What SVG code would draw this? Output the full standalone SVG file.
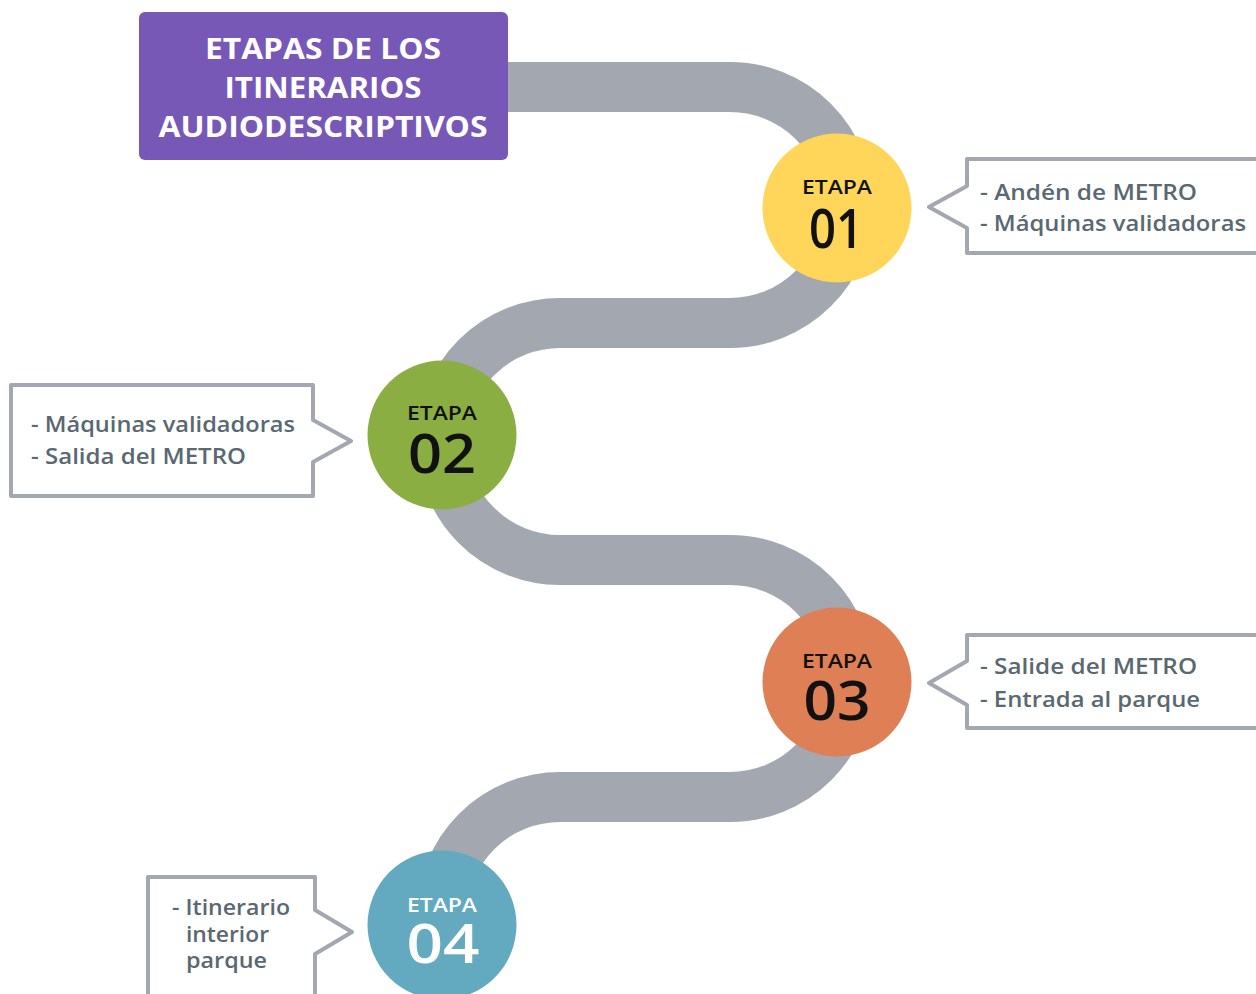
<svg xmlns="http://www.w3.org/2000/svg" width="1256" height="994" viewBox="0 0 1256 994">
<style>
.road{fill:none;stroke:#A3A7AF;stroke-width:50}
.callout{fill:#FFFFFF;stroke:#A3A7AF;stroke-width:4;stroke-linejoin:round}
.ct{font-family:"Open Sans","Liberation Sans",sans-serif;font-weight:600;font-size:22px;fill:#5A6872}
.title{font-family:"Open Sans","Liberation Sans",sans-serif;font-weight:700;font-size:29px;fill:#FFFFFF;text-anchor:middle}
.etapa{font-family:"Open Sans","Liberation Sans",sans-serif;font-weight:600;font-size:19px;text-anchor:middle}
.num{font-family:"Open Sans","Liberation Sans",sans-serif;font-weight:600;font-size:55px;text-anchor:middle}
</style>
<rect width="1256" height="994" fill="#FFFFFF"/>
<g id="connectors">
<path class="road" d="M 480 87 H 730 A 118 118 0 0 1 730 323 H 560 A 118.5 118.5 0 0 0 560 560 H 730 A 118.5 118.5 0 0 1 730 797 H 560 A 118 118 0 0 0 442 915 V 930"/>
</g>
<g id="title">
<rect x="139" y="12" width="369" height="148" rx="6" fill="#7758B7"/>
<text class="title" x="323" y="59" textLength="236" lengthAdjust="spacingAndGlyphs">ETAPAS DE LOS</text>
<text class="title" x="323" y="98" textLength="197" lengthAdjust="spacingAndGlyphs">ITINERARIOS</text>
<text class="title" x="323" y="137" textLength="329" lengthAdjust="spacingAndGlyphs">AUDIODESCRIPTIVOS</text>
</g>
<g id="etapa01">
<circle cx="837" cy="208" r="74.5" fill="#FFD55A"/>
<text class="etapa" x="837" y="194" fill="#111111" textLength="70" lengthAdjust="spacingAndGlyphs">ETAPA</text>
<text class="num" x="836" y="248" fill="#111111" textLength="54" lengthAdjust="spacingAndGlyphs">01</text>
</g>
<g id="callout01">
<path class="callout" d="M 967 159 H 1262 V 253 H 967 V 228 L 929 207 L 967 186 Z"/>
<text class="ct" x="980" y="200" textLength="217" lengthAdjust="spacingAndGlyphs">- Andén de METRO</text>
<text class="ct" x="980" y="231" textLength="266" lengthAdjust="spacingAndGlyphs">- Máquinas validadoras</text>
</g>
<g id="etapa02">
<circle cx="442" cy="435" r="74.5" fill="#8BAE43"/>
<text class="etapa" x="442" y="420" fill="#111111" textLength="70" lengthAdjust="spacingAndGlyphs">ETAPA</text>
<text class="num" x="442" y="473" fill="#111111" textLength="68" lengthAdjust="spacingAndGlyphs">02</text>
</g>
<g id="callout02">
<path class="callout" d="M 11 385 H 313 V 420 L 351 441 L 313 462 V 496 H 11 Z"/>
<text class="ct" x="31" y="432" textLength="264" lengthAdjust="spacingAndGlyphs">- Máquinas validadoras</text>
<text class="ct" x="31" y="464" textLength="215" lengthAdjust="spacingAndGlyphs">- Salida del METRO</text>
</g>
<g id="etapa03">
<circle cx="837" cy="682" r="74.5" fill="#DE7F55"/>
<text class="etapa" x="837" y="668" fill="#111111" textLength="70" lengthAdjust="spacingAndGlyphs">ETAPA</text>
<text class="num" x="837" y="720" fill="#111111" textLength="67" lengthAdjust="spacingAndGlyphs">03</text>
</g>
<g id="callout03">
<path class="callout" d="M 967 635 H 1262 V 728 H 967 V 705 L 929 683 L 967 661 Z"/>
<text class="ct" x="980" y="674" textLength="217" lengthAdjust="spacingAndGlyphs">- Salide del METRO</text>
<text class="ct" x="980" y="707" textLength="220" lengthAdjust="spacingAndGlyphs">- Entrada al parque</text>
</g>
<g id="etapa04">
<circle cx="442" cy="925" r="74.5" fill="#63AAC1"/>
<text class="etapa" x="442" y="912" fill="#FFFFFF" textLength="70" lengthAdjust="spacingAndGlyphs">ETAPA</text>
<text class="num" x="443" y="963" fill="#FFFFFF" textLength="73" lengthAdjust="spacingAndGlyphs">04</text>
</g>
<g id="callout04">
<path class="callout" d="M 148 877 H 315 V 910 L 352 932 L 315 954 V 1000 H 148 Z"/>
<text class="ct" x="172" y="915" textLength="118" lengthAdjust="spacingAndGlyphs">- Itinerario</text>
<text class="ct" x="186" y="942" textLength="83" lengthAdjust="spacingAndGlyphs">interior</text>
<text class="ct" x="186" y="968" textLength="81" lengthAdjust="spacingAndGlyphs">parque</text>
</g>
</svg>
